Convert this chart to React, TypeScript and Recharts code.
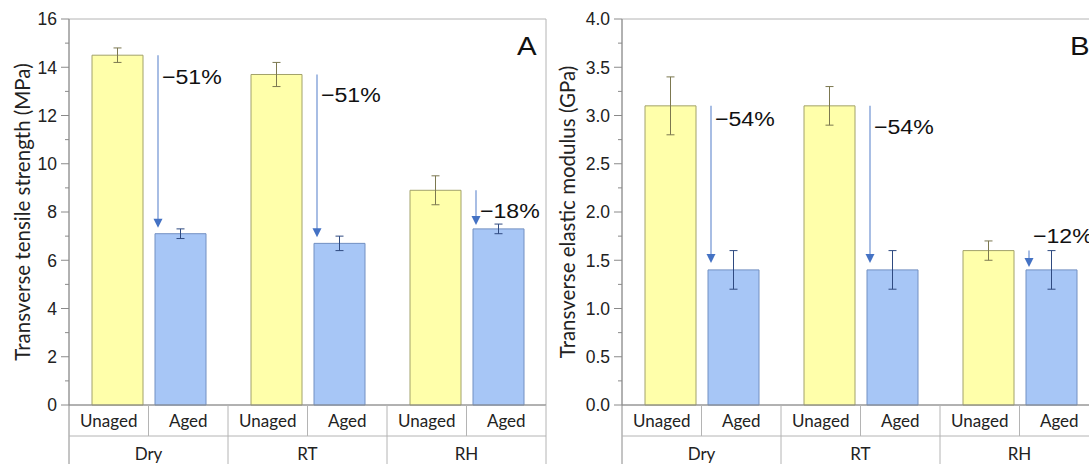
import { BarChart, Bar, XAxis, YAxis, ErrorBar, LabelList, ReferenceArea } from "recharts";

// conditions and bar labels
const GROUPS = ["Dry", "RT", "RH"];
const SUB_LABELS = ["Unaged", "Aged"];

// panel A: transverse tensile strength (MPa)
const strengthUnaged = [14.5, 13.7, 8.9];
const strengthUnagedErr = [0.3, 0.5, 0.6];
const strengthAged = [7.1, 6.7, 7.3];
const strengthAgedErr = [0.2, 0.3, 0.2];
const strengthDrop = ["−51%", "−51%", "−18%"];
const strengthTicks = [0, 1, 2, 3, 4, 5, 6, 7, 8, 9, 10, 11, 12, 13, 14, 15, 16];

// panel B: transverse elastic modulus (GPa)
const modulusUnaged = [3.1, 3.1, 1.6];
const modulusUnagedErr = [0.3, 0.2, 0.1];
const modulusAged = [1.4, 1.4, 1.4];
const modulusAgedErr = [0.2, 0.2, 0.2];
const modulusDrop = ["−54%", "−54%", "−12%"];
const modulusTicks = [0, 0.25, 0.5, 0.75, 1, 1.25, 1.5, 1.75, 2, 2.25, 2.5, 2.75, 3, 3.25, 3.5, 3.75, 4];

const CHART_W = 560;
const CHART_H = 464;
const AXIS_W = 69;
const PLOT_W = 477;
const TOP = 19;
const XAXIS_H = 59;
const ROW1 = 31;
const BAND = PLOT_W / GROUPS.length;

const YELLOW = "#FFFFAA";
const YELLOW_EDGE = "#A2A26A";
const BLUE = "#A7C6F6";
const BLUE_EDGE = "#7290C2";
const LINE_GRAY = "#B4B4B4";
const ARROW = "#4472C4";
const TICK_FONT = "'Liberation Sans', Arial, sans-serif";
const LABEL_FONT = "Lato, 'Open Sans', sans-serif";

function makeData(unaged: number[], unagedErr: number[], aged: number[], agedErr: number[]) {
  return GROUPS.map((g, i) => ({
    group: g,
    unaged: unaged[i],
    unagedErr: unagedErr[i],
    aged: aged[i],
    agedErr: agedErr[i],
  }));
}

function YTick(props: any) {
  const { x, y, payload, majorStep, digits } = props;
  const v = payload.value as number;
  const major = Math.abs(v / majorStep - Math.round(v / majorStep)) < 1e-6;
  // x is the label anchor: tickSize 8 + tickMargin 4 left of the axis
  return (
    <g>
      <line x1={major ? x + 4 : x + 8} y1={y} x2={x + 12} y2={y} stroke="#8A8A8A" strokeWidth={1} />
      {major && (
        <text x={x} y={y} dy="0.36em" textAnchor="end" fontSize={17.5} fontFamily={TICK_FONT} fill="#222">
          {v.toFixed(digits)}
        </text>
      )}
    </g>
  );
}

function GroupTick(props: any) {
  const { x, y, payload, index } = props;
  const half = BAND / 2;
  const textProps = { fontSize: 17, fontFamily: LABEL_FONT, fill: "#222", textAnchor: "middle" as const };
  return (
    <g>
      {index === 0 && <line x1={x - half} y1={y} x2={x - half} y2={y + XAXIS_H} stroke="#8A8A8A" />}
      <line x1={x} y1={y} x2={x} y2={y + ROW1} stroke={LINE_GRAY} />
      <line x1={x + half} y1={y} x2={x + half} y2={y + XAXIS_H} stroke={LINE_GRAY} />
      <line x1={x - half} y1={y + ROW1} x2={x + half} y2={y + ROW1} stroke={LINE_GRAY} />
      <text x={x - half / 2} y={y + 22} {...textProps}>{SUB_LABELS[0]}</text>
      <text x={x + half / 2} y={y + 22} {...textProps}>{SUB_LABELS[1]}</text>
      <text x={x} y={y + 55} {...textProps}>{payload.value}</text>
    </g>
  );
}

// arrow from the unaged level down to the aged bar, drawn from the aged bar geometry
function makeArrow(unaged: number[], aged: number[], drops: string[], textDy: number[], tipGap: number[]) {
  return (props: any) => {
    const vb = props.viewBox ?? props;
    const { x, y, height } = vb;
    const i = props.index ?? 0;
    if (x == null || height == null) return null;
    const bottom = y + height;
    const startY = bottom - (height * unaged[i]) / aged[i];
    const tipY = y - tipGap[i];
    const ax = x + 3;
    return (
      <g>
        <line x1={ax} y1={startY} x2={ax} y2={tipY - 8} stroke="#6E92D2" strokeWidth={1.2} />
        <path d={`M${ax - 4.5},${tipY - 9} L${ax + 4.5},${tipY - 9} L${ax},${tipY} Z`} fill={ARROW} />
        <text
          transform={`translate(${ax + 4},${startY + textDy[i]}) scale(1.1,1)`}
          fontSize={21}
          fontFamily={TICK_FONT}
          fill="#111"
        >
          {drops[i]}
        </text>
      </g>
    );
  };
}

function Panel(props: any) {
  const { data, ticks, max, majorStep, digits, yLabel, labelOffset, arrow } = props;
  return (
    <BarChart
      width={CHART_W}
      height={CHART_H}
      data={data}
      margin={{ top: TOP, right: CHART_W - AXIS_W - PLOT_W, bottom: 0, left: 0 }}
      barSize={51}
      barGap={12}
    >
      <ReferenceArea y1={0} y2={max} fill="none" stroke={LINE_GRAY} ifOverflow="visible" />
      <XAxis
        dataKey="group"
        height={XAXIS_H}
        tickSize={0}
        tickMargin={0}
        interval={0}
        axisLine={{ stroke: "#8A8A8A" }}
        tickLine={false}
        tick={<GroupTick />}
      />
      <YAxis
        width={AXIS_W}
        domain={[0, max]}
        ticks={ticks}
        interval={0}
        tickSize={8}
        tickMargin={4}
        tickLine={false}
        axisLine={{ stroke: "#8A8A8A" }}
        tick={<YTick majorStep={majorStep} digits={digits} />}
        label={{
          value: yLabel,
          angle: -90,
          position: "insideLeft",
          offset: labelOffset,
          style: { textAnchor: "middle", fontFamily: LABEL_FONT, fontSize: 20.5, fill: "#222" },
        }}
      />
      <Bar dataKey="unaged" fill={YELLOW} stroke={YELLOW_EDGE} strokeWidth={1} isAnimationActive={false}>
        <ErrorBar dataKey="unagedErr" width={4} stroke="#7C7850" strokeWidth={1} direction="y" />
      </Bar>
      <Bar dataKey="aged" fill={BLUE} stroke={BLUE_EDGE} strokeWidth={1} isAnimationActive={false}>
        <ErrorBar dataKey="agedErr" width={4} stroke="#2F4A80" strokeWidth={1} direction="y" />
        <LabelList dataKey="aged" content={arrow} />
      </Bar>
    </BarChart>
  );
}

export default function App() {
  const strengthData = makeData(strengthUnaged, strengthUnagedErr, strengthAged, strengthAgedErr);
  const modulusData = makeData(modulusUnaged, modulusUnagedErr, modulusAged, modulusAgedErr);

  return (
    <div style={{ position: "absolute", left: 0, top: 0, width: 1089, height: 464, overflow: "hidden", background: "#fff" }}>
      <div style={{ position: "absolute", left: 0, top: 0 }}>
        <Panel
          data={strengthData}
          ticks={strengthTicks}
          max={16}
          majorStep={2}
          digits={0}
          yLabel="Transverse tensile strength (MPa)"
          labelOffset={23}
          arrow={makeArrow(strengthUnaged, strengthAged, strengthDrop, [29, 28, 28], [6, 6, 4])}
        />
      </div>
      <div style={{ position: "absolute", left: 553, top: 0 }}>
        <Panel
          data={modulusData}
          ticks={modulusTicks}
          max={4}
          majorStep={0.5}
          digits={1}
          yLabel="Transverse elastic modulus (GPa)"
          labelOffset={15}
          arrow={makeArrow(modulusUnaged, modulusAged, modulusDrop, [20, 28, -8], [7, 7, 3])}
        />
      </div>
      <svg width={1089} height={464} style={{ position: "absolute", left: 0, top: 0, pointerEvents: "none" }}>
        <text transform="translate(517,55) scale(1.13,1)" fontSize={26} fontFamily={TICK_FONT} fill="#111">A</text>
        <text transform="translate(1070,55) scale(1.13,1)" fontSize={26} fontFamily={TICK_FONT} fill="#111">B</text>
      </svg>
    </div>
  );
}
